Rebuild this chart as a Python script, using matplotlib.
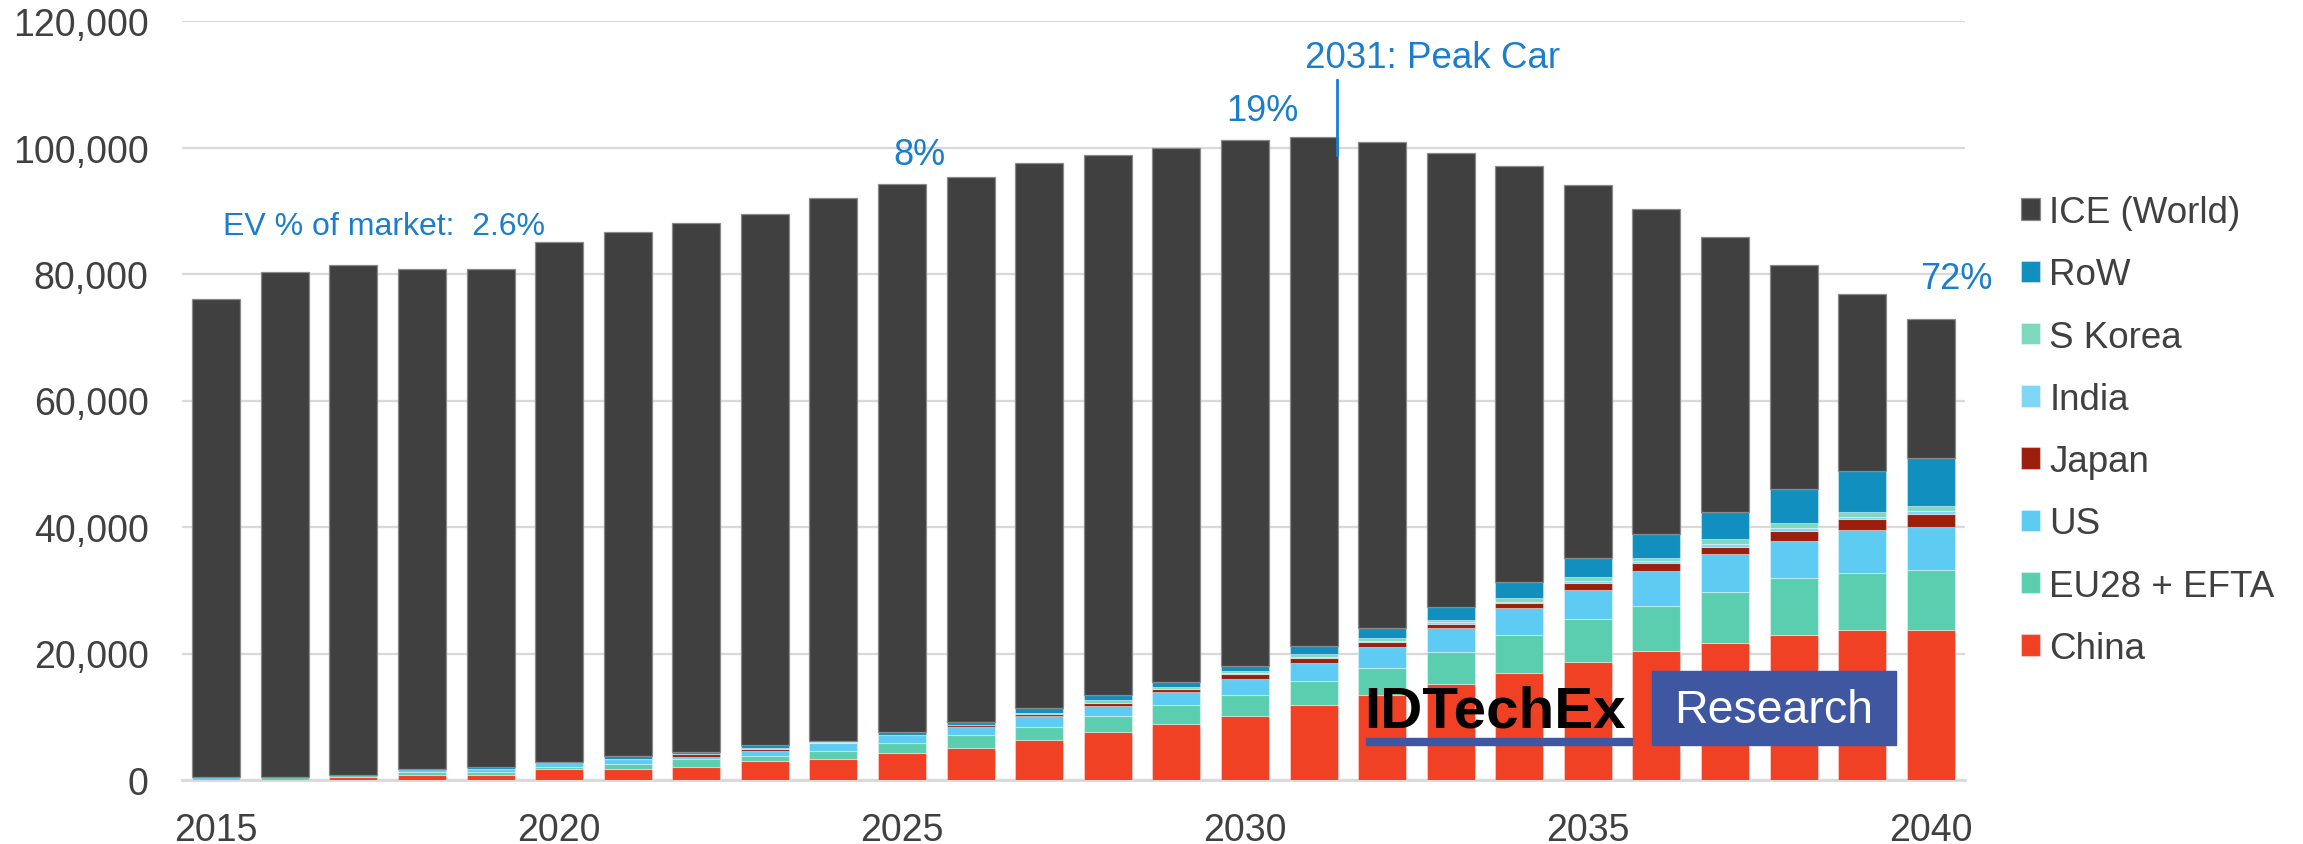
import matplotlib
matplotlib.use("Agg")
import matplotlib.pyplot as plt
import numpy as np
from matplotlib.patches import Rectangle

plt.rcParams['font.family'] = ['Liberation Sans', 'DejaVu Sans']

years = list(range(2015, 2041))
xtick_labels = ["2015", "2020", "2025", "2030", "2035", "2040"]

china  = [0, 0, 400, 840, 840, 1740, 1740, 2050, 2950, 3310, 4210, 5050, 6310, 7570, 8840,
          10100, 11840, 13410, 15150, 16900, 18600, 20360, 21590, 22920, 23720, 23720]
eu     = [0, 400, 370, 420, 420, 300, 790, 1210, 790, 1210, 1630, 2050, 2100, 2520, 2950,
          3370, 3790, 4260, 5100, 5970, 6880, 7200, 8210, 8950, 9010, 9490]
us     = [420, 0, 0, 420, 420, 840, 740, 420, 840, 1310, 1210, 1310, 1630, 1680, 2100,
          2520, 2890, 3310, 3740, 4260, 4630, 5490, 5910, 5970, 6820, 6770]
japan  = [0, 0, 0, 0, 0, 0, 0, 370, 370, 0, 0, 260, 420, 370, 420,
          840, 840, 840, 740, 800, 1100, 1200, 1200, 1500, 1700, 2100]
india  = [0, 0, 0, 0, 100, 0, 100, 50, 50, 100, 100, 100, 100, 100, 100,
          100, 150, 150, 200, 250, 300, 300, 400, 500, 400, 400]
skorea = [0, 0, 0, 0, 0, 0, 0, 0, 0, 300, 0, 0, 0, 400, 300,
          370, 420, 420, 400, 600, 550, 500, 750, 800, 750, 900]
row    = [0, 0, 0, 0, 300, 0, 420, 300, 470, 0, 420, 420, 790, 790, 840,
          790, 1210, 1580, 2000, 2560, 3000, 3900, 4260, 5440, 6400, 7600]
total  = [76000, 80300, 81500, 80800, 80800, 85000, 86600, 88000, 89500, 92000, 94200, 95400,
          97600, 98800, 100000, 101200, 101700, 100800, 99100, 97000, 94000, 90300, 85900,
          81500, 76900, 72900]

ev_series = [("China", china, "#F04124"),
             ("EU28 + EFTA", eu, "#5CCEB0"),
             ("US", us, "#5ECBF2"),
             ("Japan", japan, "#9C1E0C"),
             ("India", india, "#7FD6F5"),
             ("S Korea", skorea, "#7FD8C0"),
             ("RoW", row, "#118FBF")]

ev_sum = np.sum([np.array(s[1]) for s in ev_series], axis=0)
ice = np.array(total) - ev_sum

W, H = 2303, 845
fig = plt.figure(figsize=(W / 100, H / 100), dpi=100)
ax = fig.add_axes([182 / W, 1 - 781 / H, (1965 - 182) / W, (781 - 22) / H])

x = np.arange(len(years))
bw = 0.70
bottom = np.zeros(len(years))
handles = []
for name, vals, col in ev_series:
    b = ax.bar(x, vals, bw, bottom=bottom, color=col, edgecolor=(1, 1, 1, 0.35),
               linewidth=0.8, label=name, zorder=3)
    handles.append(b)
    bottom += np.array(vals)
b = ax.bar(x, ice, bw, bottom=bottom, color="#404040", edgecolor="#8a8a8a",
           linewidth=0.9, label="ICE (World)", zorder=3)
handles.append(b)

ax.set_xlim(-0.5, len(years) - 0.5)
ax.set_ylim(0, 120000)
ax.set_yticks(np.arange(0, 120001, 20000))
ax.set_yticklabels([f"{v:,}" for v in range(0, 120001, 20000)])
ax.set_xticks([years.index(int(t)) for t in xtick_labels])
ax.set_xticklabels(xtick_labels)
ax.tick_params(axis='both', length=0, labelsize=27, colors="#404040")
ax.tick_params(axis='y', pad=24)
ax.tick_params(axis='x', pad=23)
ax.grid(axis='y', color="#D9D9D9", linewidth=1.6, zorder=0)
ax.set_axisbelow(True)
for s in ["top", "right", "left"]:
    ax.spines[s].set_visible(False)
ax.spines["bottom"].set_color("#D9D9D9")
ax.spines["bottom"].set_linewidth(2.0)

blue = "#1B7DCB"
ax.text(0.1, 86300, "EV % of market:  2.6%", color=blue, fontsize=23, ha="left", va="baseline")
ax.text(10.26, 97350, "8%", color=blue, fontsize=26, ha="center", va="baseline")
ax.text(15.25, 104380, "19%", color=blue, fontsize=26, ha="center", va="baseline")
ax.text(15.87, 112800, "2031: Peak Car", color=blue, fontsize=26.5, ha="left", va="baseline")
ax.text(25.38, 77850, "72%", color=blue, fontsize=26, ha="center", va="baseline")
ax.plot([16.34, 16.34], [98850, 110700], color=blue, linewidth=2, zorder=4)

leg = fig.legend(handles[::-1], [h.get_label() for h in handles[::-1]],
                 loc="center left", bbox_to_anchor=(2021 / W, 1 - 431.5 / H),
                 frameon=False, fontsize=26.5, labelspacing=0.74, handlelength=0.52,
                 handleheight=0.52, handletextpad=0.25, borderpad=0, borderaxespad=0,
                 labelcolor="#404040")

# IDTechEx Research logo
logo_blue = "#3F57A0"
fig.text(1364 / W, 1 - 728 / H, "IDTechEx", fontsize=42, fontweight="bold",
         color="black", ha="left", va="baseline")
fig.patches.append(Rectangle((1366 / W, 1 - 746 / H), (1632 - 1366) / W, 7 / H,
                             transform=fig.transFigure, color=logo_blue, zorder=5))
fig.patches.append(Rectangle((1652 / W, 1 - 746 / H), (1896 - 1652) / W, 74 / H,
                             transform=fig.transFigure, color=logo_blue, zorder=5))
fig.text((1652 + 1896) / 2 / W, 1 - 723 / H, "Research", fontsize=33.5, color="white",
         ha="center", va="baseline", zorder=6)

fig.savefig("out.png", dpi=100)
